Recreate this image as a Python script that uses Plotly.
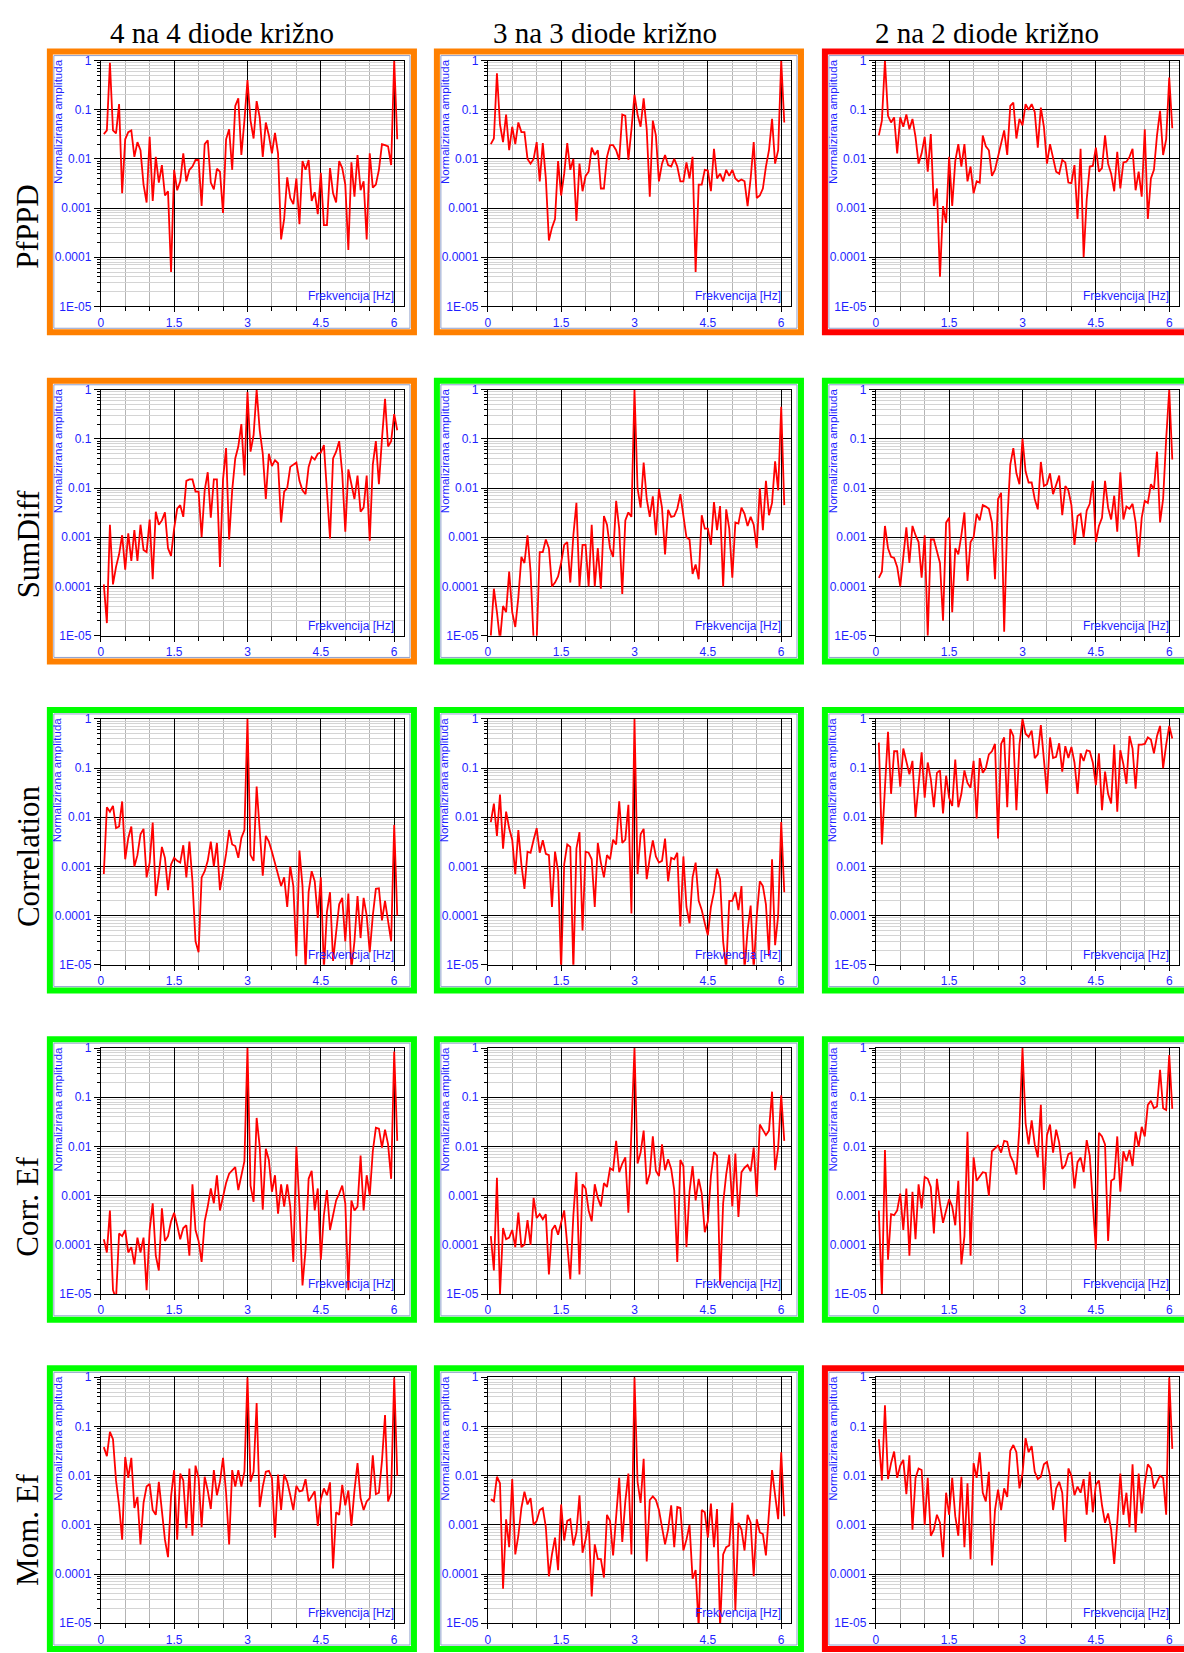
import plotly.graph_objects as go

W, H = 1184, 1653

# ---------------- data ----------------
freq = [round(k * 0.0625, 4) for k in range(1, 98)]   # FFT bins (Hz)

col_titles = ["4 na 4 diode križno", "3 na 3 diode križno", "2 na 2 diode križno"]
row_titles = ["PfPPD", "SumDiff", "Correlation", "Corr. Ef", "Mom. Ef"]
border_colors = [
    ["#FF8000", "#FF8000", "#FF0000"],
    ["#FF8000", "#00FF00", "#00FF00"],
    ["#00FF00", "#00FF00", "#00FF00"],
    ["#00FF00", "#00FF00", "#00FF00"],
    ["#00FF00", "#00FF00", "#FF0000"],
]
x_tickvals = [0, 1.5, 3, 4.5, 6]
x_ticktext = ["0", "1.5", "3", "4.5", "6"]
y_tickvals = [1, 0.1, 0.01, 0.001, 0.0001, 0.00001]
y_ticktext = ["1", "0.1", "0.01", "0.001", "0.0001", "1E-05"]
x_title = "Frekvencija [Hz]"
y_title = "Normalizirana amplituda"

pfppd_4 = [0.032, 0.038, 0.9, 0.038, 0.033, 0.13, 0.002, 0.025,
           0.035, 0.038, 0.011, 0.022, 0.015, 0.003, 0.0013, 0.028,
           0.0014, 0.011, 0.0033, 0.0075, 0.0018, 0.0022, 0.00005, 0.006,
           0.0023, 0.0035, 0.013, 0.0035, 0.006, 0.007, 0.0095, 0.0095,
           0.0011, 0.02, 0.024, 0.0033, 0.0024, 0.0063, 0.0055, 0.0008,
           0.025, 0.04, 0.006, 0.12, 0.17, 0.012, 0.06, 0.4,
           0.06, 0.026, 0.15, 0.07, 0.011, 0.055, 0.03, 0.013,
           0.034, 0.013, 0.00023, 0.0006, 0.0042, 0.0016, 0.0012, 0.004,
           0.00047, 0.009, 0.006, 0.0095, 0.0014, 0.0021, 0.00075, 0.0052,
           0.00045, 0.00045, 0.0065, 0.002, 0.0013, 0.009, 0.0065, 0.003,
           0.00014, 0.0085, 0.0017, 0.012, 0.0023, 0.0035, 0.00023, 0.013,
           0.0026, 0.003, 0.006, 0.02, 0.019, 0.018, 0.0075, 1.0,
           0.025]
pfppd_3 = [0.02, 0.026, 0.55, 0.05, 0.022, 0.08, 0.015, 0.045,
           0.02, 0.055, 0.035, 0.035, 0.01, 0.008, 0.01, 0.022,
           0.0035, 0.021, 0.004, 0.00022, 0.0004, 0.0006, 0.009, 0.0018,
           0.005, 0.021, 0.006, 0.01, 0.00055, 0.008, 0.0022, 0.0045,
           0.0055, 0.017, 0.012, 0.015, 0.0025, 0.0025, 0.011, 0.019,
           0.019, 0.015, 0.0095, 0.08, 0.075, 0.0095, 0.04, 0.2,
           0.08, 0.045, 0.17, 0.04, 0.0017, 0.06, 0.03, 0.0035,
           0.008, 0.012, 0.0075, 0.007, 0.01, 0.007, 0.0035, 0.0035,
           0.0085, 0.004, 0.011, 0.00005, 0.003, 0.003, 0.006, 0.0058,
           0.0022, 0.016, 0.004, 0.005, 0.0035, 0.006, 0.0045, 0.006,
           0.004, 0.0035, 0.0038, 0.0035, 0.0011, 0.004, 0.022, 0.0016,
           0.0018, 0.0025, 0.007, 0.015, 0.065, 0.008, 0.015, 1.0,
           0.055]
pfppd_2 = [0.03, 0.06, 1.0, 0.075, 0.055, 0.07, 0.013, 0.07,
           0.045, 0.08, 0.04, 0.065, 0.028, 0.008, 0.013, 0.028,
           0.0055, 0.032, 0.0011, 0.0025, 0.00004, 0.0011, 0.0005, 0.011,
           0.0011, 0.009, 0.02, 0.007, 0.02, 0.0035, 0.007, 0.002,
           0.0035, 0.0033, 0.03, 0.018, 0.015, 0.0045, 0.006, 0.011,
           0.02, 0.038, 0.012, 0.12, 0.14, 0.026, 0.065, 0.048,
           0.13, 0.1, 0.13, 0.09, 0.017, 0.11, 0.045, 0.008,
           0.02, 0.01, 0.0055, 0.005, 0.0095, 0.0085, 0.0033, 0.0032,
           0.0075, 0.0006, 0.016, 0.0001, 0.0015, 0.007, 0.0072, 0.017,
           0.0055, 0.0065, 0.03, 0.008, 0.005, 0.0022, 0.014, 0.0025,
           0.0085, 0.0088, 0.011, 0.016, 0.0023, 0.0055, 0.0017, 0.04,
           0.0006, 0.004, 0.006, 0.03, 0.095, 0.012, 0.025, 0.45,
           0.042]
sumdiff_4 = [0.00011, 0.000018, 0.0018, 0.00011, 0.00025, 0.00045, 0.0011, 0.00022,
             0.0012, 0.00033, 0.0014, 0.00033, 0.0018, 0.00055, 0.0005, 0.0023,
             0.00014, 0.0033, 0.0018, 0.0022, 0.0032, 0.0006, 0.00042, 0.0015,
             0.0038, 0.0045, 0.0026, 0.014, 0.015, 0.015, 0.0085, 0.0085,
             0.001, 0.009, 0.021, 0.0025, 0.015, 0.015, 0.00025, 0.015,
             0.065, 0.0009, 0.009, 0.04, 0.07, 0.2, 0.018, 0.9,
             0.055, 0.12, 1.0, 0.15, 0.05, 0.006, 0.05, 0.028,
             0.037, 0.032, 0.002, 0.0085, 0.01, 0.027, 0.03, 0.033,
             0.014, 0.009, 0.0075, 0.027, 0.043, 0.038, 0.05, 0.053,
             0.075, 0.01, 0.00095, 0.04, 0.055, 0.09, 0.02, 0.0013,
             0.024, 0.012, 0.006, 0.018, 0.0033, 0.004, 0.018, 0.00085,
             0.03, 0.09, 0.012, 0.1, 0.65, 0.07, 0.09, 0.32,
             0.15]
sumdiff_3 = [0.00001, 0.00009, 0.00003, 0.000008, 0.00004, 0.00003, 0.0002, 0.00003,
             0.000015, 0.00006, 0.0004, 0.0003, 0.0011, 0.0002, 0.000008, 0.000008,
             0.0005, 0.0005, 0.0009, 0.0006, 0.0001, 0.00012, 0.00016, 0.0003,
             0.0007, 0.0008, 0.00012, 0.0011, 0.005, 0.0001, 0.0007, 0.0007,
             0.0001, 0.0018, 0.0001, 0.0006, 0.00009, 0.0027, 0.0018, 0.0006,
             0.0004, 0.0055, 0.0015, 0.00007, 0.0022, 0.0032, 0.0026, 1.0,
             0.01, 0.004, 0.033, 0.006, 0.0026, 0.0068, 0.0011, 0.0095,
             0.004, 0.00045, 0.0036, 0.0026, 0.0027, 0.0038, 0.0075, 0.0025,
             0.001, 0.0009, 0.00018, 0.00028, 0.00014, 0.0028, 0.0015, 0.0015,
             0.0007, 0.0052, 0.0014, 0.0043, 0.0001, 0.0037, 0.0015, 0.00015,
             0.002, 0.0019, 0.004, 0.003, 0.0017, 0.0026, 0.0018, 0.0006,
             0.01, 0.0014, 0.014, 0.0028, 0.005, 0.035, 0.009, 0.45,
             0.0045]
sumdiff_2 = [0.00015, 0.0002, 0.0017, 0.0006, 0.0004, 0.00038, 0.00025, 0.0001,
             0.0004, 0.0016, 0.0003, 0.0017, 0.0011, 0.0008, 0.00015, 0.0011,
             0.00001, 0.0009, 0.0009, 0.0005, 0.0003, 0.00002, 0.002, 0.0025,
             0.00003, 0.0006, 0.00045, 0.0011, 0.0032, 0.00013, 0.0008, 0.001,
             0.003, 0.0022, 0.0045, 0.0042, 0.0038, 0.002, 0.00014, 0.006,
             0.008, 0.000012, 0.002, 0.03, 0.065, 0.02, 0.012, 0.1,
             0.022, 0.013, 0.013, 0.006, 0.0037, 0.034, 0.011, 0.012,
             0.02, 0.0075, 0.012, 0.018, 0.0028, 0.011, 0.009, 0.0045,
             0.0007, 0.0027, 0.003, 0.001, 0.0035, 0.0048, 0.014, 0.0008,
             0.0017, 0.0025, 0.014, 0.004, 0.0023, 0.007, 0.0013, 0.021,
             0.0023, 0.0042, 0.0038, 0.0048, 0.002, 0.0004, 0.0025, 0.0055,
             0.005, 0.012, 0.0095, 0.055, 0.002, 0.006, 0.1, 1.0,
             0.038]
corr_4 = [0.0007, 0.016, 0.013, 0.017, 0.006, 0.0065, 0.021, 0.0014,
          0.0038, 0.0065, 0.001, 0.0017, 0.0045, 0.0058, 0.0006, 0.0012,
          0.0078, 0.00025, 0.0007, 0.0025, 0.0015, 0.00033, 0.0011, 0.0015,
          0.0013, 0.0012, 0.0027, 0.0006, 0.0032, 0.0005, 0.00003, 0.000018,
          0.0006, 0.0008, 0.0013, 0.0032, 0.001, 0.003, 0.00033, 0.0008,
          0.0018, 0.0055, 0.0028, 0.0026, 0.0015, 0.0038, 0.0055, 1.0,
          0.0017, 0.0013, 0.042, 0.0055, 0.00065, 0.0042, 0.0032, 0.002,
          0.0012, 0.0007, 0.0004, 0.0006, 0.00015, 0.001, 0.0004, 0.000015,
          0.0021, 0.0004, 0.000008, 0.0003, 0.0008, 0.0005, 0.00009, 0.0006,
          0.000008, 0.00012, 0.0003, 0.000012, 0.00005, 0.00017, 0.00023, 0.00003,
          0.00028, 0.000008, 0.00003, 0.00025, 0.000035, 0.00023, 0.0001, 0.000018,
          0.0001, 0.00035, 0.00036, 0.00008, 0.0002, 0.00008, 0.00003, 0.007,
          0.0001]
corr_3 = [0.008, 0.019, 0.0042, 0.029, 0.0023, 0.013, 0.006, 0.0035,
          0.0007, 0.0055, 0.0011, 0.00035, 0.002, 0.0019, 0.0035, 0.006,
          0.0019, 0.0034, 0.0018, 0.0017, 0.00015, 0.002, 0.0008, 0.000008,
          0.0011, 0.0028, 0.0025, 0.000008, 0.0023, 0.005, 0.00005, 0.002,
          0.0019, 0.0014, 0.00015, 0.003, 0.0012, 0.0006, 0.0017, 0.0014,
          0.0035, 0.0028, 0.021, 0.003, 0.0035, 0.018, 0.00011, 1.0,
          0.0007, 0.0045, 0.0058, 0.00055, 0.0015, 0.0034, 0.0016, 0.0012,
          0.0013, 0.0037, 0.0005, 0.0015, 0.0014, 0.0019, 0.00006, 0.0016,
          0.00015, 0.00007, 0.0006, 0.0012, 0.0002, 0.00013, 0.00007, 0.00004,
          0.00015, 0.0003, 0.0009, 0.00055, 0.00003, 0.000008, 0.0002, 0.0002,
          0.0003, 0.00013, 0.0004, 0.000008, 0.00005, 0.00016, 0.000008, 0.0001,
          0.0005, 0.0004, 0.00017, 0.000015, 0.0014, 0.000025, 0.0001, 0.008,
          0.0003]
corr_2 = [0.33, 0.0028, 0.04, 0.55, 0.03, 0.22, 0.22, 0.042,
          0.25, 0.14, 0.075, 0.14, 0.01, 0.045, 0.21, 0.025,
          0.13, 0.06, 0.016, 0.08, 0.09, 0.012, 0.07, 0.025,
          0.017, 0.15, 0.016, 0.03, 0.09, 0.05, 0.04, 0.14,
          0.0095, 0.16, 0.08, 0.1, 0.19, 0.22, 0.31, 0.0037,
          0.31, 0.42, 0.016, 0.62, 0.45, 0.014, 0.3, 1.0,
          0.5, 0.43, 0.58, 0.16, 0.19, 0.75, 0.13, 0.03,
          0.42, 0.16, 0.17, 0.32, 0.085, 0.28, 0.16, 0.27,
          0.13, 0.03, 0.2, 0.14, 0.23, 0.22, 0.13, 0.045,
          0.2, 0.014, 0.085, 0.03, 0.019, 0.3, 0.013, 0.23,
          0.12, 0.048, 0.45, 0.25, 0.038, 0.3, 0.3, 0.31,
          0.42, 0.38, 0.2, 0.45, 0.72, 0.1, 0.3, 0.72,
          0.4]
corref_4 = [0.00013, 0.00007, 0.0005, 0.000012, 0.000008, 0.00017, 0.00015, 0.0002,
            0.00007, 0.00009, 0.00004, 0.00014, 0.00007, 0.00014, 0.000012, 0.0002,
            0.0007, 0.00006, 0.00003, 0.00055, 0.00012, 0.00015, 0.0003, 0.00045,
            0.00025, 0.00013, 0.00022, 0.00025, 0.00006, 0.0017, 0.0002, 0.00012,
            0.000045, 0.0003, 0.0006, 0.0014, 0.0007, 0.0026, 0.0005, 0.001,
            0.0018, 0.0028, 0.0033, 0.0038, 0.0013, 0.0025, 0.005, 1.0,
            0.0016, 0.00075, 0.038, 0.01, 0.00052, 0.009, 0.0053, 0.0012,
            0.0026, 0.00043, 0.0017, 0.0006, 0.0017, 0.0006, 0.000045, 0.01,
            0.0006, 0.000015, 0.00008, 0.0022, 0.0032, 0.0005, 0.0014, 0.00005,
            0.0004, 0.0013, 0.0002, 0.0004, 0.0008, 0.0011, 0.0016, 0.0007,
            0.000012, 0.0008, 0.0005, 0.0006, 0.0065, 0.0005, 0.0026, 0.001,
            0.008, 0.024, 0.023, 0.0095, 0.022, 0.011, 0.0022, 0.85,
            0.013]
corref_3 = [0.00015, 0.00003, 0.0023, 0.00001, 0.00022, 0.00013, 0.00014, 0.0002,
            0.00009, 0.00045, 0.00009, 0.0001, 0.00032, 0.0001, 0.0009, 0.00035,
            0.00042, 0.00033, 0.00042, 0.000025, 0.0002, 0.00025, 0.00016, 0.0003,
            0.0005, 0.0001, 0.00002, 0.0004, 0.003, 0.000025, 0.0017, 0.0014,
            0.0005, 0.0003, 0.0017, 0.0009, 0.0006, 0.0018, 0.0015, 0.0036,
            0.0033, 0.013, 0.003, 0.0045, 0.006, 0.00045, 0.02, 1.0,
            0.0045, 0.0075, 0.021, 0.0017, 0.0028, 0.016, 0.0032, 0.0025,
            0.011, 0.0033, 0.0055, 0.0035, 0.0013, 0.000045, 0.0053, 0.004,
            0.00009, 0.0012, 0.004, 0.0008, 0.0022, 0.0011, 0.00018, 0.0003,
            0.0025, 0.0077, 0.0065, 0.000015, 0.0007, 0.0027, 0.0068, 0.0006,
            0.0072, 0.00037, 0.003, 0.0037, 0.0042, 0.0031, 0.0095, 0.00095,
            0.028, 0.022, 0.017, 0.021, 0.13, 0.0033, 0.0095, 0.11,
            0.013]
corref_2 = [0.0005, 0.000009, 0.0085, 0.00005, 0.00042, 0.0004, 0.0005, 0.0011,
            0.0002, 0.0014, 0.00006, 0.0012, 0.00013, 0.0017, 0.00055, 0.0024,
            0.0022, 0.0015, 0.00017, 0.0022, 0.0007, 0.00028, 0.0005, 0.00085,
            0.0006, 0.00025, 0.002, 0.00004, 0.00015, 0.02, 0.00006, 0.006,
            0.002, 0.0025, 0.003, 0.0029, 0.001, 0.008, 0.009, 0.0105,
            0.0075, 0.013, 0.0125, 0.0065, 0.0048, 0.0027, 0.025, 1.0,
            0.03, 0.011, 0.034, 0.011, 0.006, 0.07, 0.0013, 0.017,
            0.028, 0.0075, 0.022, 0.012, 0.0035, 0.0042, 0.007, 0.0075,
            0.0014, 0.0048, 0.006, 0.003, 0.0135, 0.0065, 0.0007, 0.00008,
            0.019, 0.016, 0.011, 0.00012, 0.002, 0.0022, 0.016, 0.0012,
            0.008, 0.005, 0.0085, 0.004, 0.02, 0.0098, 0.025, 0.016,
            0.07, 0.085, 0.06, 0.065, 0.36, 0.06, 0.055, 0.72,
            0.058]
momef_4 = [0.038, 0.025, 0.078, 0.055, 0.008, 0.0025, 0.0005, 0.024,
           0.009, 0.023, 0.0022, 0.0037, 0.0004, 0.0028, 0.006, 0.0068,
           0.002, 0.0016, 0.0075, 0.0022, 0.0005, 0.00022, 0.0038, 0.013,
           0.0005, 0.011, 0.008, 0.00085, 0.014, 0.0006, 0.016, 0.009,
           0.0009, 0.0095, 0.005, 0.0021, 0.013, 0.004, 0.0075, 0.023,
           0.0045, 0.0004, 0.013, 0.006, 0.013, 0.006, 0.012, 1.0,
           0.0075, 0.012, 0.3, 0.0023, 0.006, 0.012, 0.0125, 0.009,
           0.00055, 0.0105, 0.002, 0.0105, 0.0075, 0.004, 0.002, 0.0062,
           0.0048, 0.005, 0.0085, 0.003, 0.0038, 0.0048, 0.00095, 0.0033,
           0.0055, 0.004, 0.0073, 0.00013, 0.0018, 0.0016, 0.0065, 0.0025,
           0.005, 0.00095, 0.005, 0.018, 0.0035, 0.002, 0.003, 0.0035,
           0.026, 0.0042, 0.0045, 0.02, 0.17, 0.003, 0.0045, 1.0,
           0.01]
momef_3 = [0.0033, 0.003, 0.0095, 0.007, 0.00005, 0.0013, 0.00035, 0.0085,
           0.00025, 0.0006, 0.0022, 0.0047, 0.0026, 0.0035, 0.001, 0.0012,
           0.002, 0.0022, 0.0009, 0.00009, 0.00025, 0.00055, 0.00012, 0.0026,
           0.00048, 0.0012, 0.0013, 0.00038, 0.0007, 0.004, 0.00027, 0.0005,
           0.0012, 0.000035, 0.0004, 0.0002, 0.0002, 0.000085, 0.0016, 0.0012,
           0.00024, 0.0017, 0.009, 0.00045, 0.003, 0.011, 0.00025, 1.0,
           0.0075, 0.0028, 0.022, 0.00018, 0.0032, 0.0038, 0.0032, 0.002,
           0.0009, 0.0004, 0.0008, 0.0025, 0.00035, 0.0023, 0.0022, 0.0003,
           0.0005, 0.001, 0.00008, 0.00012, 0.000008, 0.002, 0.0018, 0.00055,
           0.0027, 0.00035, 0.0021, 0.000008, 0.00025, 0.00035, 0.00038, 0.0028,
           0.000018, 0.0011, 0.0008, 0.0003, 0.0016, 0.0011, 0.00009, 0.0013,
           0.0007, 0.00065, 0.00024, 0.0015, 0.013, 0.004, 0.0013, 0.03,
           0.0015]
momef_2 = [0.055, 0.008, 0.27, 0.0085, 0.018, 0.031, 0.009, 0.016,
           0.021, 0.0042, 0.026, 0.0008, 0.009, 0.014, 0.013, 0.001,
           0.009, 0.0006, 0.0008, 0.0016, 0.0011, 0.00022, 0.0045, 0.0016,
           0.009, 0.0015, 0.0006, 0.0095, 0.00035, 0.007, 0.0002, 0.018,
           0.009, 0.03, 0.0045, 0.003, 0.012, 0.00015, 0.002, 0.0052,
           0.002, 0.0055, 0.0037, 0.032, 0.042, 0.03, 0.0055, 0.011,
           0.058, 0.03, 0.04, 0.012, 0.0085, 0.0095, 0.017, 0.019,
           0.01, 0.002, 0.0055, 0.0075, 0.0045, 0.00045, 0.014, 0.01,
           0.004, 0.006, 0.0045, 0.0085, 0.0016, 0.012, 0.0018, 0.0065,
           0.008, 0.0025, 0.0011, 0.0017, 0.0008, 0.00016, 0.0011, 0.011,
           0.0016, 0.0045, 0.0009, 0.017, 0.0007, 0.011, 0.0017, 0.007,
           0.017, 0.014, 0.0055, 0.0075, 0.01, 0.009, 0.0016, 1.0,
           0.035]

series = [
    [pfppd_4, pfppd_3, pfppd_2],
    [sumdiff_4, sumdiff_3, sumdiff_2],
    [corr_4, corr_3, corr_2],
    [corref_4, corref_3, corref_2],
    [momef_4, momef_3, momef_2],
]

# ---------------- layout geometry (pixels) ----------------
border_left = [44, 432, 821]
border_top = [42, 374, 706, 1038, 1370]
BW, BH, BT = 371, 289, 6          # border box width/height/thickness
PL, PT, PW, PH = 54, 12, 304, 248  # plot area offset and size inside box
col_title_x = [220, 604, 987]


def fx(p):
    return p / W


def fy(p):
    return 1 - p / H


BLUE = "#1f1fff"
TICKFONT = dict(family="Liberation Sans, Arial", size=12, color=BLUE)

minor_log = []
for d in range(-5, 0):
    for m in range(2, 10):
        minor_log.append(m * 10 ** d)

fig = go.Figure()
shapes = []
annotations = []
layout_axes = {}

for r in range(5):
    for c in range(3):
        i = r * 3 + c + 1
        bl, bt = border_left[c], border_top[r]
        pl, pt = bl + PL, bt + PT
        vals = series[r][c]
        xs = freq[:len(vals)]
        fig.add_trace(go.Scatter(
            x=xs, y=vals, mode="lines",
            line=dict(color="#FF0000", width=1.8),
            xaxis=f"x{i}", yaxis=f"y{i}", showlegend=False, hoverinfo="skip"))
        xname = "xaxis" if i == 1 else f"xaxis{i}"
        yname = "yaxis" if i == 1 else f"yaxis{i}"
        layout_axes[xname] = dict(
            domain=[fx(pl), fx(pl + PW)], anchor=f"y{i}",
            range=[0, 6.2], tickmode="array", tickvals=x_tickvals, ticktext=x_ticktext,
            tickfont=TICKFONT, showgrid=True, gridcolor="#000000", gridwidth=1,
            showline=True, linecolor="#000000", linewidth=1, mirror=True,
            ticks="outside", ticklen=5, tickcolor="#000000", zeroline=False,
            minor=dict(tickmode="array", tickvals=[0.5, 1, 2, 2.5, 3.5, 4, 5, 5.5],
                       showgrid=True, gridcolor="#b4b4b4", gridwidth=1,
                       ticks="outside", ticklen=4, tickcolor="#000000"),
            fixedrange=True)
        layout_axes[yname] = dict(
            domain=[fy(pt + PH), fy(pt)], anchor=f"x{i}",
            type="log", range=[-5, 0], tickmode="array",
            tickvals=y_tickvals, ticktext=y_ticktext, tickfont=TICKFONT,
            showgrid=True, gridcolor="#000000", gridwidth=1,
            showline=True, linecolor="#000000", linewidth=1, mirror=True,
            ticks="outside", ticklen=6, tickcolor="#000000", zeroline=False,
            minor=dict(tickmode="array", tickvals=minor_log,
                       showgrid=True, gridcolor="#d4d4d4", gridwidth=1,
                       ticks="outside", ticklen=3, tickcolor="#000000"),
            fixedrange=True)

        # thin inner frame
        shapes.append(dict(type="rect", xref="paper", yref="paper",
                           x0=fx(bl + 7), x1=fx(bl + BW - 7),
                           y0=fy(bt + BH - 7), y1=fy(bt + 7),
                           line=dict(color="#8e9fcc", width=1), layer="below"))
        # coloured border
        shapes.append(dict(type="rect", xref="paper", yref="paper",
                           x0=fx(bl + BT / 2), x1=fx(bl + BW - BT / 2),
                           y0=fy(bt + BH - BT / 2), y1=fy(bt + BT / 2),
                           line=dict(color=border_colors[r][c], width=BT)))
        # y title
        annotations.append(dict(xref="paper", yref="paper",
                                x=fx(bl + 11), y=fy(bt + 8),
                                xanchor="center", yanchor="top", textangle=-90,
                                text=y_title, showarrow=False,
                                font=dict(family="Liberation Sans, Arial", size=11.5, color=BLUE)))
        # x title inside plot
        annotations.append(dict(xref="paper", yref="paper",
                                x=fx(pl + 296), y=fy(pt + PH - 1),
                                xanchor="right", yanchor="bottom",
                                text=x_title, showarrow=False,
                                font=dict(family="Liberation Sans, Arial", size=12, color=BLUE)))

for r, name in enumerate(row_titles):
    annotations.append(dict(xref="paper", yref="paper",
                            x=fx(25), y=fy(border_top[r] + 224),
                            xanchor="center", yanchor="bottom", textangle=-90,
                            text=name, showarrow=False,
                            font=dict(family="Liberation Serif, Times New Roman", size=31, color="#000000")))

for c, name in enumerate(col_titles):
    annotations.append(dict(xref="paper", yref="paper",
                            x=fx(col_title_x[c]), y=fy(26),
                            xanchor="center", yanchor="middle",
                            text=name, showarrow=False,
                            font=dict(family="Liberation Serif, Times New Roman", size=29, color="#000000")))

fig.update_layout(
    width=W, height=H, margin=dict(l=0, r=0, t=0, b=0),
    paper_bgcolor="#ffffff", plot_bgcolor="#ffffff",
    showlegend=False, shapes=shapes, annotations=annotations,
    **layout_axes)

fig.write_html("out.html",
               config={"displayModeBar": False, "staticPlot": True},
               post_script="document.body.style.margin='0';document.body.style.overflow='hidden';")
